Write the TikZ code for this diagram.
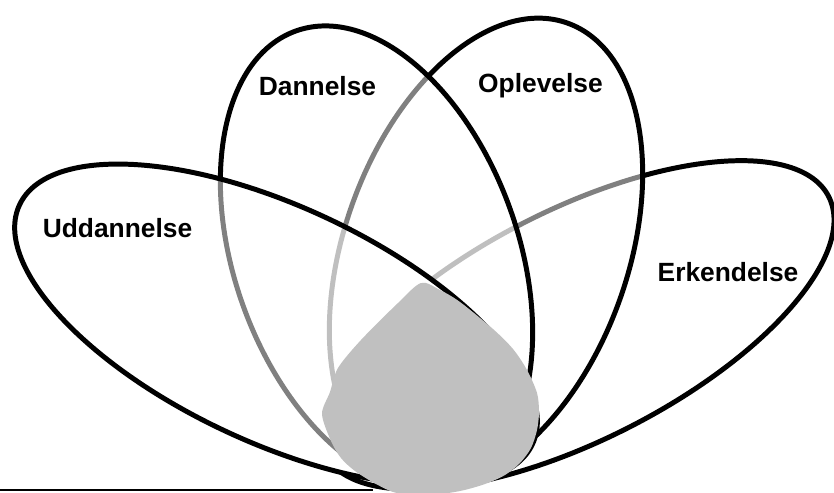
\documentclass[tikz,border=0pt]{standalone}
\usepackage{fontspec}
\setmainfont{Liberation Sans}
\definecolor{blobgray}{HTML}{C0C0C0}
\begin{document}
\begin{tikzpicture}[x=0.03cm,y=-0.03cm,
  petal/.style={fill=white, fill opacity=0.5, draw=black, draw opacity=1, line width=4.25pt},
  lbl/.style={font=\bfseries\fontsize{22.5}{27}\selectfont, inner sep=0pt, anchor=base}]
\useasboundingbox (0,0) rectangle (834,492);
\clip (0,0) rectangle (834,492);
% petals, bottom to top: Erkendelse, Oplevelse, Dannelse, Uddannelse
\filldraw[petal, rotate around={27:(576.5,325)}] (576.5,325) ellipse [x radius=283, y radius=115];
\fill[white, rotate around={-25:(276,324.5)}] (276,324.5) ellipse [x radius=283, y radius=118];
\filldraw[petal, rotate around={70.4:(486,252)}] (486,252) ellipse [x radius=243, y radius=142];
\filldraw[petal, rotate around={-70.4:(376.5,257)}] (376.5,257) ellipse [x radius=240, y radius=142];
\filldraw[petal, rotate around={-25:(276,324.5)}] (276,324.5) ellipse [x radius=283, y radius=118];
% centre blob
\fill[blobgray] plot[smooth cycle, tension=0.5] coordinates {(421,283) (440,290) (460,302) (493,329) (513,349) (527,370) (537,393) (539,412) (537,430) (531,448) (520,463) (505,475) (485,484) (460,491) (430,495) (397,493) (376,484) (355,471) (341,458) (331,441) (322,414) (330,392) (338,368) (361,340) (398,303)};
% labels
\node[lbl] (dan) at (317.5,95) {Dannelse};
\node[lbl] (opl) at (540.5,92.5) {Oplevelse};
\node[lbl] (udd) at (117.5,237) {Uddannelse};
\node[lbl] (erk) at (728,281) {Erkendelse};
% bottom rule
\coordinate (l0) at (0,490);
\coordinate (l1) at (373,490);
\draw[line width=1.7pt] (l0) -- (l1);
\end{tikzpicture}
\end{document}
